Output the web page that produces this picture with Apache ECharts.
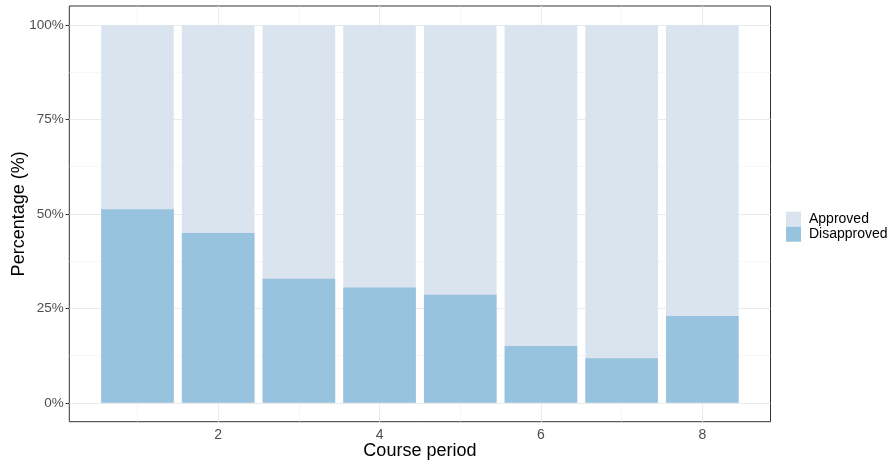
<!DOCTYPE html>
<html>
<head>
<meta charset="utf-8">
<script src="https://cdn.jsdelivr.net/npm/echarts@6/dist/echarts.min.js"></script>
<style>html,body{margin:0;padding:0;background:#fff}#c{width:893px;height:461px}</style>
</head>
<body>
<div id="c"></div>
<script>
const periods = [1, 2, 3, 4, 5, 6, 7, 8];
const disapproved = [51.2, 44.9, 32.8, 30.5, 28.6, 15.0, 11.8, 23.0];
const approved = disapproved.map(v => +(100 - v).toFixed(1));
const xTicks = [2, 4, 6, 8];
const xMinor = [1, 3, 5, 7];
const yTicks = [0, 25, 50, 75, 100];
const yMinor = [12.5, 37.5, 62.5, 87.5];

const xMin = 0.155, xMax = 8.845;
const gridLeft = 69.3, gridRight = 122.5;
const plotW = 893 - gridLeft - gridRight;
const barW = plotW / (xMax - xMin) * 0.9;

const font = 'Liberation Sans, Arial, sans-serif';
const gridData = [];
yTicks.forEach(v => gridData.push({yAxis: v, lineStyle: {color: '#ebebeb', width: 1.1, type: 'solid'}}));
yMinor.forEach(v => gridData.push({yAxis: v, lineStyle: {color: '#f2f2f2', width: 0.6, type: 'solid'}}));
xTicks.forEach(v => gridData.push({xAxis: v, lineStyle: {color: '#ebebeb', width: 1.1, type: 'solid'}}));
xMinor.forEach(v => gridData.push({xAxis: v, lineStyle: {color: '#f2f2f2', width: 0.6, type: 'solid'}}));

const chart = echarts.init(document.getElementById('c'), null, {renderer: 'canvas'});
chart.setOption({
  animation: false,
  backgroundColor: '#fff',
  grid: {left: gridLeft, right: gridRight, top: 6, bottom: 39.3, show: true, borderColor: '#333333', borderWidth: 1, backgroundColor: 'transparent', containLabel: false, outerBoundsMode: 'none'},
  legend: {
    orient: 'vertical', left: 781, top: 206.7, itemWidth: 15, itemHeight: 15, itemGap: 0,
    icon: 'rect', data: ['Approved', 'Disapproved'],
    textStyle: {fontFamily: font, fontSize: 14, color: '#000', padding: [0, 0, 0, 3]},
    selectedMode: false
  },
  xAxis: {
    type: 'value', min: xMin, max: xMax,
    name: 'Course period', nameLocation: 'middle', nameGap: 20.5, nameMoveOverlap: false,
    nameTextStyle: {fontFamily: font, fontSize: 18, color: '#000'},
    axisLine: {show: false},
    axisTick: {show: true, customValues: xTicks, length: 3.7, lineStyle: {color: '#333', width: 1}},
    axisLabel: {customValues: xTicks, fontFamily: font, fontSize: 14, color: '#4d4d4d', margin: 6},
    splitLine: {show: false}
  },
  yAxis: {
    type: 'value', min: -5, max: 105,
    name: 'Percentage (%)', nameLocation: 'middle', nameGap: 41.5, nameRotate: 90, nameMoveOverlap: false,
    nameTextStyle: {fontFamily: font, fontSize: 18, color: '#000'},
    axisLine: {show: false},
    axisTick: {show: true, customValues: yTicks, length: 3.7, lineStyle: {color: '#333', width: 1}},
    axisLabel: {customValues: yTicks, fontFamily: font, fontSize: 13.5, color: '#4d4d4d', margin: 5.5, formatter: v => v + '%'},
    splitLine: {show: false}
  },
  series: [
    {
      type: 'line', data: [], silent: true, z: 1,
      markLine: {silent: true, symbol: 'none', z: 1, label: {show: false}, animation: false, data: gridData}
    },
    {
      name: 'Approved', type: 'bar', z: 2, barWidth: barW, barGap: '-100%',
      itemStyle: {color: '#dae4ef'},
      data: periods.map((p, i) => [p, +(approved[i] + disapproved[i]).toFixed(1)])
    },
    {
      name: 'Disapproved', type: 'bar', z: 3, barWidth: barW, barGap: '-100%',
      itemStyle: {color: '#97c3df'},
      data: periods.map((p, i) => [p, disapproved[i]])
    }
  ]
});
</script>
</body>
</html>
